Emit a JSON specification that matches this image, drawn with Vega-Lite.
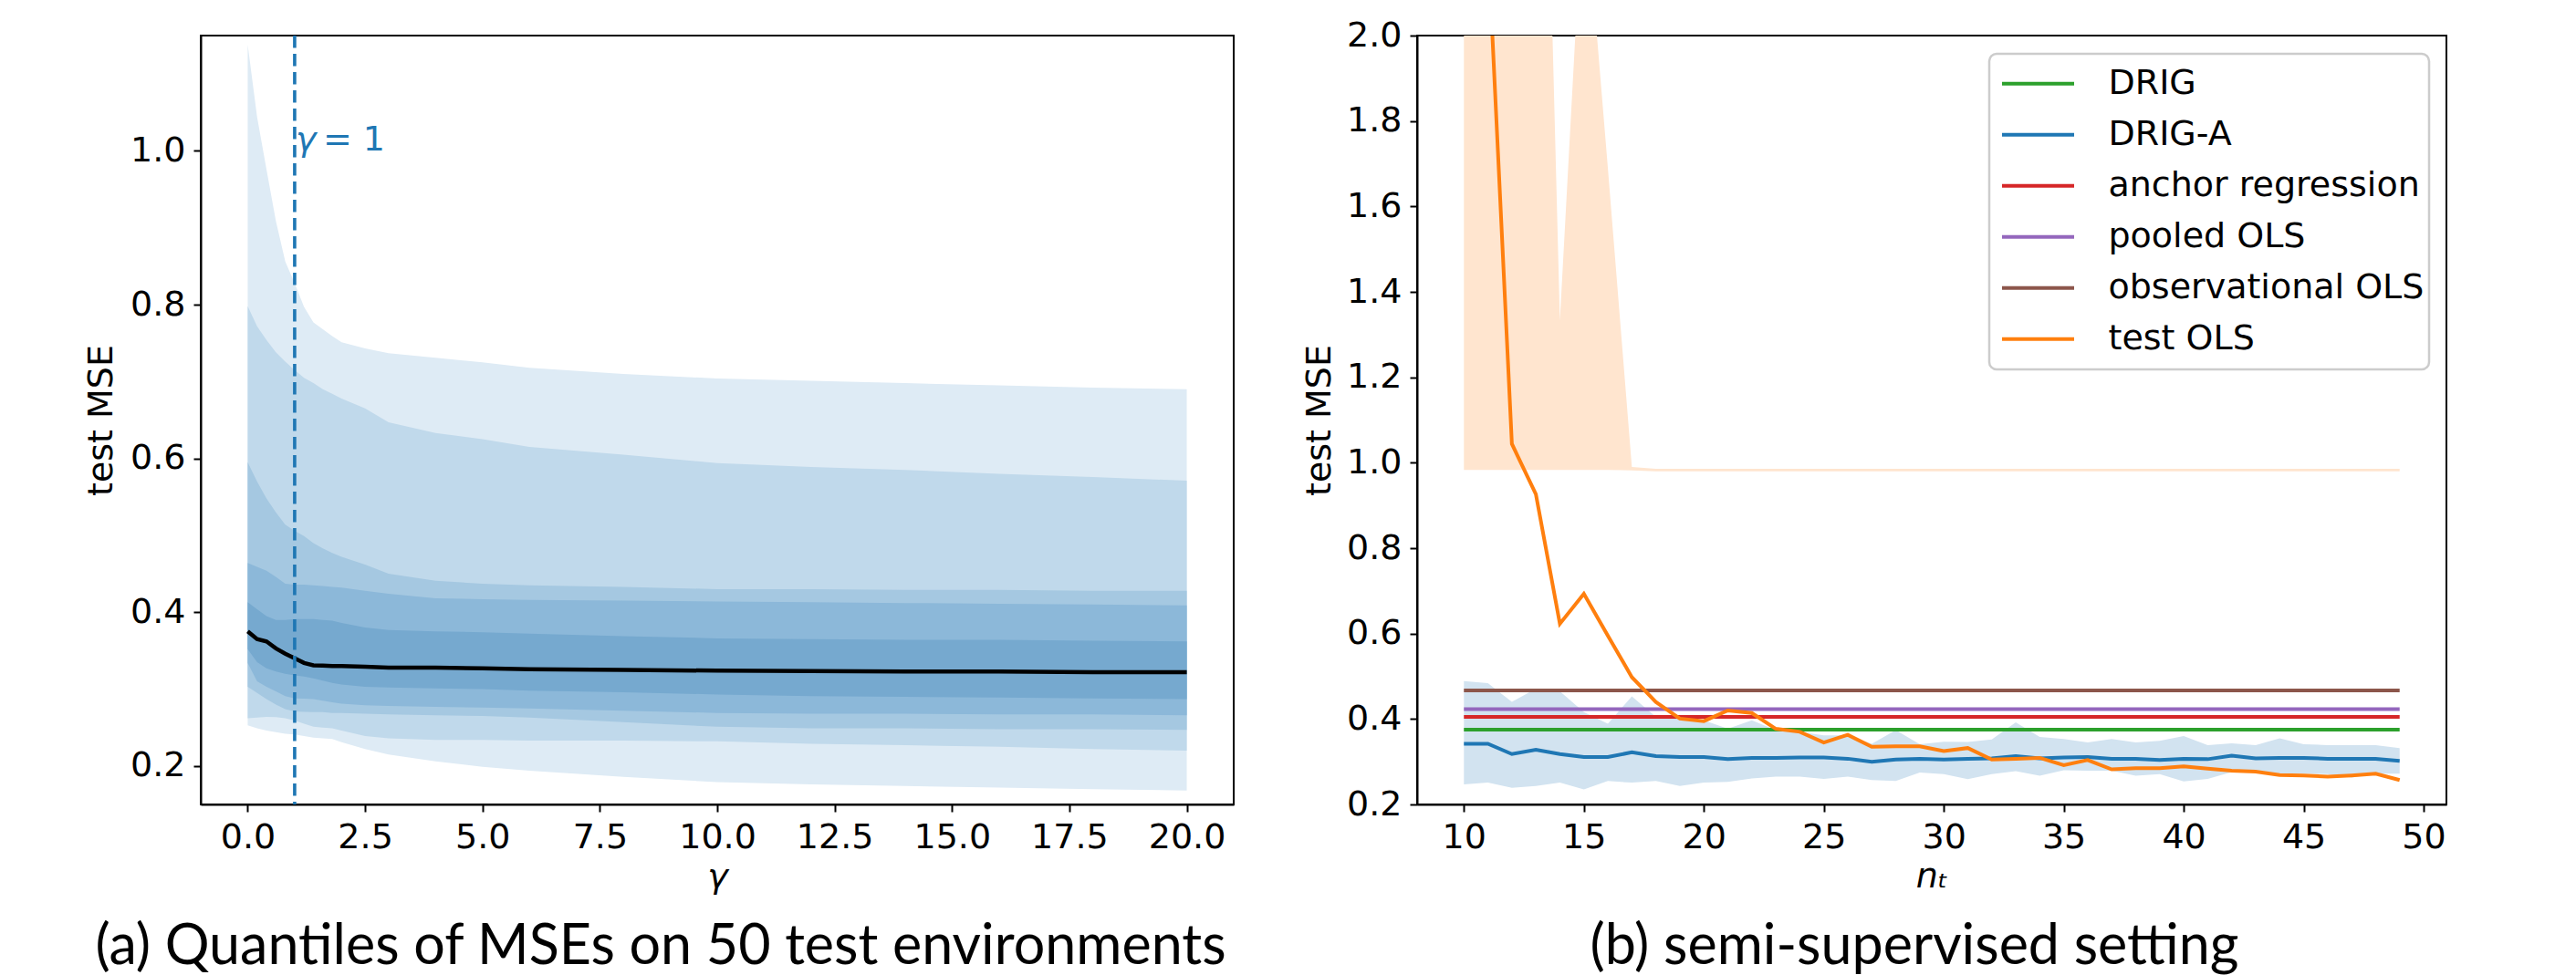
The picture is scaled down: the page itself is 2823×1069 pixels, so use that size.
{
  "$schema": "https://vega.github.io/schema/vega-lite/v6.json",
  "background": "white",
  "autosize": {"type": "pad"},
  "padding": {"left": 91, "top": 19, "right": 10, "bottom": 5},
  "spacing": 201,
  "bounds": "flush",
  "config": {
    "font": "DejaVu Sans",
    "view": {"stroke": "black", "strokeWidth": 2},
    "axis": {"labelFont": "DejaVu Sans", "titleFont": "DejaVu Sans", "labelFontSize": 38, "titleFontSize": 38, "titleFontWeight": "normal", "labelColor": "black", "titleColor": "black", "tickColor": "black", "domainColor": "black", "tickSize": 8, "tickWidth": 2, "domainWidth": 2, "labelPadding": 9, "grid": false, "labelFlush": false, "labelOverlap": false},
    "title": {"font": "Lato", "fontSize": 61, "fontWeight": "normal", "color": "black"},
    "legend": {"strokeWidth": 2.5}
  },
  "datasets": {
    "quantiles": [
      {"gamma": 0, "o_lo": 0.253, "o_hi": 1.138, "b2_lo": 0.262, "b2_hi": 0.798, "b3_lo": 0.303, "b3_hi": 0.595, "b4_lo": 0.334, "b4_hi": 0.464, "b5_lo": 0.352, "b5_hi": 0.413, "median": 0.375},
      {"gamma": 0.2, "o_lo": 0.249, "o_hi": 1.044, "b2_lo": 0.263, "b2_hi": 0.772, "b3_lo": 0.295, "b3_hi": 0.570, "b4_lo": 0.310, "b4_hi": 0.459, "b5_lo": 0.335, "b5_hi": 0.404, "median": 0.365},
      {"gamma": 0.4, "o_lo": 0.246, "o_hi": 0.976, "b2_lo": 0.264, "b2_hi": 0.754, "b3_lo": 0.287, "b3_hi": 0.548, "b4_lo": 0.303, "b4_hi": 0.454, "b5_lo": 0.327, "b5_hi": 0.395, "median": 0.362},
      {"gamma": 0.6, "o_lo": 0.244, "o_hi": 0.909, "b2_lo": 0.2635, "b2_hi": 0.738, "b3_lo": 0.280, "b3_hi": 0.530, "b4_lo": 0.297, "b4_hi": 0.446, "b5_lo": 0.323, "b5_hi": 0.390, "median": 0.353},
      {"gamma": 0.8, "o_lo": 0.242, "o_hi": 0.856, "b2_lo": 0.262, "b2_hi": 0.726, "b3_lo": 0.274, "b3_hi": 0.514, "b4_lo": 0.291, "b4_hi": 0.437, "b5_lo": 0.320, "b5_hi": 0.390, "median": 0.346},
      {"gamma": 1.0, "o_lo": 0.241, "o_hi": 0.828, "b2_lo": 0.259, "b2_hi": 0.715, "b3_lo": 0.271, "b3_hi": 0.506, "b4_lo": 0.288, "b4_hi": 0.436, "b5_lo": 0.318, "b5_hi": 0.391, "median": 0.340},
      {"gamma": 1.2, "o_lo": 0.239, "o_hi": 0.797, "b2_lo": 0.255, "b2_hi": 0.705, "b3_lo": 0.2705, "b3_hi": 0.499, "b4_lo": 0.2875, "b4_hi": 0.436, "b5_lo": 0.3165, "b5_hi": 0.391, "median": 0.334},
      {"gamma": 1.4, "o_lo": 0.237, "o_hi": 0.777, "b2_lo": 0.251, "b2_hi": 0.698, "b3_lo": 0.270, "b3_hi": 0.490, "b4_lo": 0.287, "b4_hi": 0.435, "b5_lo": 0.314, "b5_hi": 0.391, "median": 0.331},
      {"gamma": 1.6, "o_lo": 0.236, "o_hi": 0.768, "b2_lo": 0.250, "b2_hi": 0.690, "b3_lo": 0.270, "b3_hi": 0.483, "b4_lo": 0.285, "b4_hi": 0.434, "b5_lo": 0.311, "b5_hi": 0.390, "median": 0.3305},
      {"gamma": 1.8, "o_lo": 0.235, "o_hi": 0.759, "b2_lo": 0.249, "b2_hi": 0.684, "b3_lo": 0.269, "b3_hi": 0.477, "b4_lo": 0.283, "b4_hi": 0.433, "b5_lo": 0.308, "b5_hi": 0.389, "median": 0.330},
      {"gamma": 2.0, "o_lo": 0.231, "o_hi": 0.751, "b2_lo": 0.246, "b2_hi": 0.678, "b3_lo": 0.269, "b3_hi": 0.472, "b4_lo": 0.281, "b4_hi": 0.432, "b5_lo": 0.306, "b5_hi": 0.386, "median": 0.330},
      {"gamma": 2.5, "o_lo": 0.222, "o_hi": 0.743, "b2_lo": 0.239, "b2_hi": 0.665, "b3_lo": 0.268, "b3_hi": 0.462, "b4_lo": 0.279, "b4_hi": 0.428, "b5_lo": 0.303, "b5_hi": 0.380, "median": 0.329},
      {"gamma": 3, "o_lo": 0.215, "o_hi": 0.737, "b2_lo": 0.236, "b2_hi": 0.647, "b3_lo": 0.267, "b3_hi": 0.450, "b4_lo": 0.278, "b4_hi": 0.424, "b5_lo": 0.302, "b5_hi": 0.377, "median": 0.328},
      {"gamma": 4, "o_lo": 0.206, "o_hi": 0.731, "b2_lo": 0.234, "b2_hi": 0.633, "b3_lo": 0.266, "b3_hi": 0.441, "b4_lo": 0.277, "b4_hi": 0.418, "b5_lo": 0.301, "b5_hi": 0.375, "median": 0.328},
      {"gamma": 5, "o_lo": 0.199, "o_hi": 0.725, "b2_lo": 0.234, "b2_hi": 0.625, "b3_lo": 0.265, "b3_hi": 0.437, "b4_lo": 0.276, "b4_hi": 0.417, "b5_lo": 0.300, "b5_hi": 0.374, "median": 0.327},
      {"gamma": 6, "o_lo": 0.194, "o_hi": 0.718, "b2_lo": 0.233, "b2_hi": 0.615, "b3_lo": 0.263, "b3_hi": 0.435, "b4_lo": 0.275, "b4_hi": 0.416, "b5_lo": 0.298, "b5_hi": 0.372, "median": 0.326},
      {"gamma": 8, "o_lo": 0.186, "o_hi": 0.710, "b2_lo": 0.233, "b2_hi": 0.605, "b3_lo": 0.257, "b3_hi": 0.433, "b4_lo": 0.272, "b4_hi": 0.415, "b5_lo": 0.296, "b5_hi": 0.369, "median": 0.325},
      {"gamma": 10, "o_lo": 0.179, "o_hi": 0.704, "b2_lo": 0.232, "b2_hi": 0.594, "b3_lo": 0.251, "b3_hi": 0.430, "b4_lo": 0.269, "b4_hi": 0.414, "b5_lo": 0.293, "b5_hi": 0.366, "median": 0.324},
      {"gamma": 12, "o_lo": 0.176, "o_hi": 0.701, "b2_lo": 0.229, "b2_hi": 0.589, "b3_lo": 0.249, "b3_hi": 0.430, "b4_lo": 0.268, "b4_hi": 0.413, "b5_lo": 0.291, "b5_hi": 0.365, "median": 0.3235},
      {"gamma": 14, "o_lo": 0.174, "o_hi": 0.698, "b2_lo": 0.227, "b2_hi": 0.585, "b3_lo": 0.249, "b3_hi": 0.429, "b4_lo": 0.268, "b4_hi": 0.412, "b5_lo": 0.290, "b5_hi": 0.364, "median": 0.323},
      {"gamma": 16, "o_lo": 0.172, "o_hi": 0.695, "b2_lo": 0.225, "b2_hi": 0.580, "b3_lo": 0.248, "b3_hi": 0.429, "b4_lo": 0.267, "b4_hi": 0.411, "b5_lo": 0.289, "b5_hi": 0.364, "median": 0.323},
      {"gamma": 18, "o_lo": 0.170, "o_hi": 0.692, "b2_lo": 0.222, "b2_hi": 0.576, "b3_lo": 0.248, "b3_hi": 0.428, "b4_lo": 0.267, "b4_hi": 0.410, "b5_lo": 0.288, "b5_hi": 0.363, "median": 0.322},
      {"gamma": 20, "o_lo": 0.168, "o_hi": 0.690, "b2_lo": 0.220, "b2_hi": 0.571, "b3_lo": 0.247, "b3_hi": 0.428, "b4_lo": 0.266, "b4_hi": 0.409, "b5_lo": 0.287, "b5_hi": 0.362, "median": 0.322}
    ],
    "marker": [{"gamma": 1, "label_y": 1.0}],
    "bands": [
      {"n": 10, "ols_lo": 0.983, "ols_hi": 5.0, "driga_lo": 0.247, "driga_hi": 0.489},
      {"n": 11, "ols_lo": 0.983, "ols_hi": 5.0, "driga_lo": 0.251, "driga_hi": 0.484},
      {"n": 12, "ols_lo": 0.983, "ols_hi": 5.0, "driga_lo": 0.239, "driga_hi": 0.440},
      {"n": 13, "ols_lo": 0.983, "ols_hi": 3.5, "driga_lo": 0.243, "driga_hi": 0.471},
      {"n": 14, "ols_lo": 0.983, "ols_hi": 1.333, "driga_lo": 0.251, "driga_hi": 0.465},
      {"n": 15, "ols_lo": 0.983, "ols_hi": 2.37, "driga_lo": 0.235, "driga_hi": 0.416},
      {"n": 16, "ols_lo": 0.983, "ols_hi": 1.69, "driga_lo": 0.255, "driga_hi": 0.389},
      {"n": 17, "ols_lo": 0.982, "ols_hi": 0.99, "driga_lo": 0.251, "driga_hi": 0.453},
      {"n": 18, "ols_lo": 0.980, "ols_hi": 0.986, "driga_lo": 0.255, "driga_hi": 0.405},
      {"n": 19, "ols_lo": 0.980, "ols_hi": 0.986, "driga_lo": 0.243, "driga_hi": 0.410},
      {"n": 20, "ols_lo": 0.980, "ols_hi": 0.986, "driga_lo": 0.251, "driga_hi": 0.397},
      {"n": 21, "ols_lo": 0.980, "ols_hi": 0.986, "driga_lo": 0.253, "driga_hi": 0.377},
      {"n": 22, "ols_lo": 0.980, "ols_hi": 0.986, "driga_lo": 0.261, "driga_hi": 0.397},
      {"n": 23, "ols_lo": 0.980, "ols_hi": 0.986, "driga_lo": 0.265, "driga_hi": 0.374},
      {"n": 24, "ols_lo": 0.980, "ols_hi": 0.986, "driga_lo": 0.265, "driga_hi": 0.370},
      {"n": 25, "ols_lo": 0.980, "ols_hi": 0.986, "driga_lo": 0.260, "driga_hi": 0.362},
      {"n": 26, "ols_lo": 0.980, "ols_hi": 0.986, "driga_lo": 0.265, "driga_hi": 0.362},
      {"n": 27, "ols_lo": 0.980, "ols_hi": 0.986, "driga_lo": 0.257, "driga_hi": 0.342},
      {"n": 28, "ols_lo": 0.980, "ols_hi": 0.986, "driga_lo": 0.255, "driga_hi": 0.374},
      {"n": 29, "ols_lo": 0.980, "ols_hi": 0.986, "driga_lo": 0.275, "driga_hi": 0.341},
      {"n": 30, "ols_lo": 0.980, "ols_hi": 0.986, "driga_lo": 0.271, "driga_hi": 0.347},
      {"n": 31, "ols_lo": 0.980, "ols_hi": 0.986, "driga_lo": 0.259, "driga_hi": 0.346},
      {"n": 32, "ols_lo": 0.980, "ols_hi": 0.986, "driga_lo": 0.271, "driga_hi": 0.352},
      {"n": 33, "ols_lo": 0.980, "ols_hi": 0.986, "driga_lo": 0.278, "driga_hi": 0.392},
      {"n": 34, "ols_lo": 0.980, "ols_hi": 0.986, "driga_lo": 0.267, "driga_hi": 0.358},
      {"n": 35, "ols_lo": 0.980, "ols_hi": 0.986, "driga_lo": 0.280, "driga_hi": 0.353},
      {"n": 36, "ols_lo": 0.980, "ols_hi": 0.986, "driga_lo": 0.279, "driga_hi": 0.345},
      {"n": 37, "ols_lo": 0.980, "ols_hi": 0.986, "driga_lo": 0.279, "driga_hi": 0.353},
      {"n": 38, "ols_lo": 0.980, "ols_hi": 0.986, "driga_lo": 0.267, "driga_hi": 0.345},
      {"n": 39, "ols_lo": 0.980, "ols_hi": 0.986, "driga_lo": 0.271, "driga_hi": 0.349},
      {"n": 40, "ols_lo": 0.980, "ols_hi": 0.986, "driga_lo": 0.254, "driga_hi": 0.360},
      {"n": 41, "ols_lo": 0.980, "ols_hi": 0.986, "driga_lo": 0.260, "driga_hi": 0.339},
      {"n": 42, "ols_lo": 0.980, "ols_hi": 0.986, "driga_lo": 0.276, "driga_hi": 0.343},
      {"n": 43, "ols_lo": 0.980, "ols_hi": 0.986, "driga_lo": 0.274, "driga_hi": 0.339},
      {"n": 44, "ols_lo": 0.980, "ols_hi": 0.986, "driga_lo": 0.272, "driga_hi": 0.355},
      {"n": 45, "ols_lo": 0.980, "ols_hi": 0.986, "driga_lo": 0.272, "driga_hi": 0.341},
      {"n": 46, "ols_lo": 0.980, "ols_hi": 0.986, "driga_lo": 0.271, "driga_hi": 0.339},
      {"n": 47, "ols_lo": 0.980, "ols_hi": 0.986, "driga_lo": 0.263, "driga_hi": 0.339},
      {"n": 48, "ols_lo": 0.980, "ols_hi": 0.986, "driga_lo": 0.272, "driga_hi": 0.339},
      {"n": 49, "ols_lo": 0.980, "ols_hi": 0.986, "driga_lo": 0.272, "driga_hi": 0.332}
    ],
    "methods": [
      {"method": "DRIG", "n": 10, "mse": 0.375},
      {"method": "DRIG", "n": 49, "mse": 0.375},
      {"method": "DRIG-A", "n": 10, "mse": 0.342},
      {"method": "DRIG-A", "n": 11, "mse": 0.342},
      {"method": "DRIG-A", "n": 12, "mse": 0.318},
      {"method": "DRIG-A", "n": 13, "mse": 0.328},
      {"method": "DRIG-A", "n": 14, "mse": 0.318},
      {"method": "DRIG-A", "n": 15, "mse": 0.311},
      {"method": "DRIG-A", "n": 16, "mse": 0.311},
      {"method": "DRIG-A", "n": 17, "mse": 0.322},
      {"method": "DRIG-A", "n": 18, "mse": 0.313},
      {"method": "DRIG-A", "n": 19, "mse": 0.311},
      {"method": "DRIG-A", "n": 20, "mse": 0.311},
      {"method": "DRIG-A", "n": 21, "mse": 0.306},
      {"method": "DRIG-A", "n": 22, "mse": 0.309},
      {"method": "DRIG-A", "n": 23, "mse": 0.309},
      {"method": "DRIG-A", "n": 24, "mse": 0.310},
      {"method": "DRIG-A", "n": 25, "mse": 0.310},
      {"method": "DRIG-A", "n": 26, "mse": 0.307},
      {"method": "DRIG-A", "n": 27, "mse": 0.300},
      {"method": "DRIG-A", "n": 28, "mse": 0.305},
      {"method": "DRIG-A", "n": 29, "mse": 0.307},
      {"method": "DRIG-A", "n": 30, "mse": 0.305},
      {"method": "DRIG-A", "n": 31, "mse": 0.307},
      {"method": "DRIG-A", "n": 32, "mse": 0.308},
      {"method": "DRIG-A", "n": 33, "mse": 0.313},
      {"method": "DRIG-A", "n": 34, "mse": 0.308},
      {"method": "DRIG-A", "n": 35, "mse": 0.310},
      {"method": "DRIG-A", "n": 36, "mse": 0.311},
      {"method": "DRIG-A", "n": 37, "mse": 0.307},
      {"method": "DRIG-A", "n": 38, "mse": 0.307},
      {"method": "DRIG-A", "n": 39, "mse": 0.304},
      {"method": "DRIG-A", "n": 40, "mse": 0.307},
      {"method": "DRIG-A", "n": 41, "mse": 0.306},
      {"method": "DRIG-A", "n": 42, "mse": 0.314},
      {"method": "DRIG-A", "n": 43, "mse": 0.308},
      {"method": "DRIG-A", "n": 44, "mse": 0.309},
      {"method": "DRIG-A", "n": 45, "mse": 0.309},
      {"method": "DRIG-A", "n": 46, "mse": 0.307},
      {"method": "DRIG-A", "n": 47, "mse": 0.307},
      {"method": "DRIG-A", "n": 48, "mse": 0.307},
      {"method": "DRIG-A", "n": 49, "mse": 0.302},
      {"method": "anchor regression", "n": 10, "mse": 0.405},
      {"method": "anchor regression", "n": 49, "mse": 0.405},
      {"method": "pooled OLS", "n": 10, "mse": 0.423},
      {"method": "pooled OLS", "n": 49, "mse": 0.423},
      {"method": "observational OLS", "n": 10, "mse": 0.467},
      {"method": "observational OLS", "n": 49, "mse": 0.467},
      {"method": "test OLS", "n": 10, "mse": 3.0},
      {"method": "test OLS", "n": 11, "mse": 2.22},
      {"method": "test OLS", "n": 12, "mse": 1.044},
      {"method": "test OLS", "n": 13, "mse": 0.926},
      {"method": "test OLS", "n": 14, "mse": 0.623},
      {"method": "test OLS", "n": 15, "mse": 0.693},
      {"method": "test OLS", "n": 16, "mse": 0.595},
      {"method": "test OLS", "n": 17, "mse": 0.498},
      {"method": "test OLS", "n": 18, "mse": 0.440},
      {"method": "test OLS", "n": 19, "mse": 0.401},
      {"method": "test OLS", "n": 20, "mse": 0.395},
      {"method": "test OLS", "n": 21, "mse": 0.420},
      {"method": "test OLS", "n": 22, "mse": 0.414},
      {"method": "test OLS", "n": 23, "mse": 0.377},
      {"method": "test OLS", "n": 24, "mse": 0.370},
      {"method": "test OLS", "n": 25, "mse": 0.345},
      {"method": "test OLS", "n": 26, "mse": 0.363},
      {"method": "test OLS", "n": 27, "mse": 0.335},
      {"method": "test OLS", "n": 28, "mse": 0.336},
      {"method": "test OLS", "n": 29, "mse": 0.336},
      {"method": "test OLS", "n": 30, "mse": 0.325},
      {"method": "test OLS", "n": 31, "mse": 0.332},
      {"method": "test OLS", "n": 32, "mse": 0.305},
      {"method": "test OLS", "n": 33, "mse": 0.307},
      {"method": "test OLS", "n": 34, "mse": 0.309},
      {"method": "test OLS", "n": 35, "mse": 0.292},
      {"method": "test OLS", "n": 36, "mse": 0.304},
      {"method": "test OLS", "n": 37, "mse": 0.282},
      {"method": "test OLS", "n": 38, "mse": 0.285},
      {"method": "test OLS", "n": 39, "mse": 0.285},
      {"method": "test OLS", "n": 40, "mse": 0.289},
      {"method": "test OLS", "n": 41, "mse": 0.284},
      {"method": "test OLS", "n": 42, "mse": 0.279},
      {"method": "test OLS", "n": 43, "mse": 0.277},
      {"method": "test OLS", "n": 44, "mse": 0.269},
      {"method": "test OLS", "n": 45, "mse": 0.268},
      {"method": "test OLS", "n": 46, "mse": 0.265},
      {"method": "test OLS", "n": 47, "mse": 0.268},
      {"method": "test OLS", "n": 48, "mse": 0.272},
      {"method": "test OLS", "n": 49, "mse": 0.257}
    ]
  },
  "hconcat": [
    {
      "width": 1132,
      "height": 843,
      "title": {"text": "(a) Quantiles of MSEs on 50 test environments", "orient": "bottom", "anchor": "middle", "frame": "group", "dx": -62, "offset": 29},
      "encoding": {
        "x": {"field": "gamma", "type": "quantitative", "scale": {"domain": [-1, 21], "nice": false, "zero": false}, "axis": {"values": [0, 2.5, 5, 7.5, 10, 12.5, 15, 17.5, 20], "format": ".1f", "title": "γ", "titleFontStyle": "italic", "titlePadding": 5}}
      },
      "layer": [
        {
          "data": {"name": "quantiles"},
          "mark": {"type": "area", "color": "#deebf5", "opacity": 1},
          "encoding": {
            "y": {"field": "o_lo", "type": "quantitative", "scale": {"domain": [0.15, 1.15], "nice": false, "zero": false}, "axis": {"values": [0.2, 0.4, 0.6, 0.8, 1.0], "format": ".1f", "title": "test MSE", "titlePadding": 12}},
            "y2": {"field": "o_hi"}
          }
        },
        {
          "data": {"name": "quantiles"},
          "mark": {"type": "area", "color": "#c0d9eb", "opacity": 1},
          "encoding": {
            "y": {"field": "b2_lo", "type": "quantitative", "scale": {"domain": [0.15, 1.15], "nice": false, "zero": false}, "axis": {"values": [0.2, 0.4, 0.6, 0.8, 1.0], "format": ".1f", "title": "test MSE", "titlePadding": 12}},
            "y2": {"field": "b2_hi"}
          }
        },
        {
          "data": {"name": "quantiles"},
          "mark": {"type": "area", "color": "#a5c8e1", "opacity": 1},
          "encoding": {
            "y": {"field": "b3_lo", "type": "quantitative", "scale": {"domain": [0.15, 1.15], "nice": false, "zero": false}, "axis": {"values": [0.2, 0.4, 0.6, 0.8, 1.0], "format": ".1f", "title": "test MSE", "titlePadding": 12}},
            "y2": {"field": "b3_hi"}
          }
        },
        {
          "data": {"name": "quantiles"},
          "mark": {"type": "area", "color": "#8cb8d9", "opacity": 1},
          "encoding": {
            "y": {"field": "b4_lo", "type": "quantitative", "scale": {"domain": [0.15, 1.15], "nice": false, "zero": false}, "axis": {"values": [0.2, 0.4, 0.6, 0.8, 1.0], "format": ".1f", "title": "test MSE", "titlePadding": 12}},
            "y2": {"field": "b4_hi"}
          }
        },
        {
          "data": {"name": "quantiles"},
          "mark": {"type": "area", "color": "#76a9cf", "opacity": 1},
          "encoding": {
            "y": {"field": "b5_lo", "type": "quantitative", "scale": {"domain": [0.15, 1.15], "nice": false, "zero": false}, "axis": {"values": [0.2, 0.4, 0.6, 0.8, 1.0], "format": ".1f", "title": "test MSE", "titlePadding": 12}},
            "y2": {"field": "b5_hi"}
          }
        },
        {
          "data": {"name": "quantiles"},
          "mark": {"type": "line", "color": "black", "strokeWidth": 4.5},
          "encoding": {
            "y": {"field": "median", "type": "quantitative", "scale": {"domain": [0.15, 1.15], "nice": false, "zero": false}, "axis": {"values": [0.2, 0.4, 0.6, 0.8, 1.0], "format": ".1f", "title": "test MSE", "titlePadding": 12}}
          }
        },
        {
          "data": {"name": "marker"},
          "mark": {"type": "rule", "color": "#1f77b4", "strokeWidth": 3.6, "strokeDash": [13.5, 6.5]},
          "encoding": {}
        },
        {
          "data": {"name": "marker"},
          "mark": {"type": "text", "text": "γ", "font": "DejaVu Sans", "fontSize": 38, "fontStyle": "italic", "color": "#1f77b4", "align": "left", "baseline": "alphabetic", "dx": 1},
          "encoding": {
            "y": {"field": "label_y", "type": "quantitative", "scale": {"domain": [0.15, 1.15], "nice": false, "zero": false}, "axis": {"values": [0.2, 0.4, 0.6, 0.8, 1.0], "format": ".1f", "title": "test MSE", "titlePadding": 12}}
          }
        },
        {
          "data": {"name": "marker"},
          "mark": {"type": "text", "text": "= 1", "font": "DejaVu Sans", "fontSize": 38, "color": "#1f77b4", "align": "left", "baseline": "alphabetic", "dx": 31},
          "encoding": {
            "y": {"field": "label_y", "type": "quantitative", "scale": {"domain": [0.15, 1.15], "nice": false, "zero": false}, "axis": {"values": [0.2, 0.4, 0.6, 0.8, 1.0], "format": ".1f", "title": "test MSE", "titlePadding": 12}}
          }
        }
      ]
    },
    {
      "width": 1128,
      "height": 843,
      "title": {"text": "(b) semi-supervised setting", "orient": "bottom", "anchor": "middle", "frame": "group", "dx": -19, "offset": 29},
      "encoding": {
        "x": {"field": "n", "type": "quantitative", "scale": {"domain": [8.05, 50.95], "nice": false, "zero": false}, "axis": {"values": [10, 15, 20, 25, 30, 35, 40, 45, 50], "format": "d", "title": "nₜ", "titleFontStyle": "italic", "titlePadding": 5}}
      },
      "layer": [
        {
          "data": {"name": "bands"},
          "mark": {"type": "area", "color": "#ffe5cf", "opacity": 1, "clip": true},
          "encoding": {
            "y": {"field": "ols_lo", "type": "quantitative", "scale": {"domain": [0.2, 2.0], "nice": false, "zero": false}, "axis": {"values": [0.2, 0.4, 0.6, 0.8, 1.0, 1.2, 1.4, 1.6, 1.8, 2.0], "format": ".1f", "title": "test MSE", "titlePadding": 10}},
            "y2": {"field": "ols_hi"}
          }
        },
        {
          "data": {"name": "bands"},
          "mark": {"type": "area", "color": "#d2e3f0", "opacity": 1, "clip": true},
          "encoding": {
            "y": {"field": "driga_lo", "type": "quantitative", "scale": {"domain": [0.2, 2.0], "nice": false, "zero": false}, "axis": {"values": [0.2, 0.4, 0.6, 0.8, 1.0, 1.2, 1.4, 1.6, 1.8, 2.0], "format": ".1f", "title": "test MSE", "titlePadding": 10}},
            "y2": {"field": "driga_hi"}
          }
        },
        {
          "data": {"name": "methods"},
          "mark": {"type": "line", "strokeWidth": 4, "clip": true},
          "encoding": {
            "y": {"field": "mse", "type": "quantitative", "scale": {"domain": [0.2, 2.0], "nice": false, "zero": false}, "axis": {"values": [0.2, 0.4, 0.6, 0.8, 1.0, 1.2, 1.4, 1.6, 1.8, 2.0], "format": ".1f", "title": "test MSE", "titlePadding": 10}},
            "color": {
              "field": "method", "type": "nominal",
              "scale": {"domain": ["DRIG", "DRIG-A", "anchor regression", "pooled OLS", "observational OLS", "test OLS"], "range": ["#2ca02c", "#1f77b4", "#d62728", "#9467bd", "#8c564b", "#ff7f0e"]},
              "legend": {"orient": "none", "legendX": 1960, "legendY": 20, "title": null, "symbolType": "stroke", "symbolSize": 6241, "symbolStrokeWidth": 4, "symbolOffset": 7, "clipHeight": 55.7, "labelFont": "DejaVu Sans", "labelFontSize": 38, "labelColor": "black", "labelOffset": 35.5, "labelLimit": 1000, "padding": 5, "strokeColor": "#cccccc", "fillColor": "white", "cornerRadius": 8, "rowPadding": 0}
            }
          }
        }
      ]
    }
  ]
}
